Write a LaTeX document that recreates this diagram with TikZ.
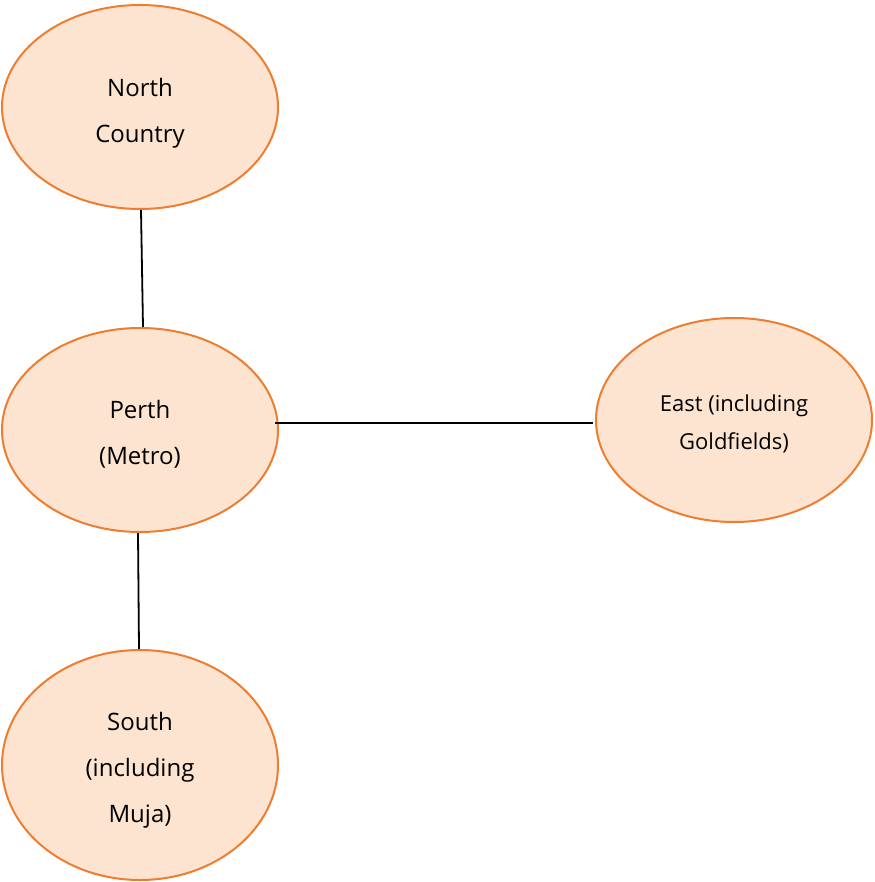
\documentclass[tikz,border=0pt]{standalone}
\usepackage{fontspec}
\setmainfont{Open Sans}
\usetikzlibrary{shapes.geometric}
\definecolor{peach}{HTML}{FCE4D0}
\definecolor{borderorange}{HTML}{ED7D31}
\begin{document}
\begin{tikzpicture}[x=1pt,y=-1pt,
  region/.style={ellipse, draw=borderorange, line width=2pt, fill=peach,
    minimum width=276pt, minimum height=204pt, inner sep=0pt},
  regiontext/.style={inner sep=0pt, align=center, text=black,
    font=\fontsize{24}{46}\selectfont},
  smalltext/.style={regiontext, font=\fontsize{22}{38}\selectfont},
  link/.style={draw=black, line width=1.8pt}]
\useasboundingbox (0,0) rectangle (874,882);
\node[region] (north) at (140,107) {};
\node[regiontext] (northlbl) at ([yshift=-6pt]north.center) {North\\Country};
\node[region] (perth) at (140,430) {};
\node[regiontext] (perthlbl) at ([yshift=-4pt]perth.center) {Perth\\(Metro)};
\node[region] (east) at (734,420) {};
\node[smalltext] (eastlbl) at ([yshift=-4pt]east.center) {East (including\\Goldfields)};
\node[region, minimum height=230pt] (south) at (140,765) {};
\node[regiontext] (southlbl) at ([yshift=-5pt]south.center) {South\\(including\\Muja)};
\draw[link] ([xshift=1pt]north.south) -- ([xshift=3pt]perth.north);
\draw[link] ([xshift=-4pt,yshift=7pt]perth.east) -- ([xshift=-2pt,yshift=-3pt]east.west);
\draw[link] ([xshift=-2pt]perth.south) -- ([xshift=-1pt]south.north);
\end{tikzpicture}
\end{document}
